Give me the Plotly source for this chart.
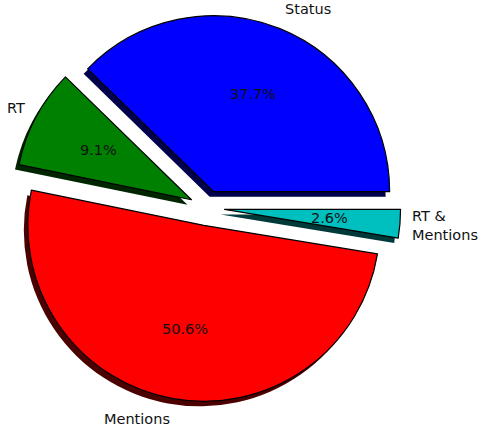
import numpy as np
import plotly.graph_objects as go

# ---- data ----
labels = ["Status", "RT", "Mentions", "RT & Mentions"]
values = [37.7, 9.1, 50.6, 2.6]
colors = ["#0000ff", "#008000", "#ff0000", "#00bfbf"]
shadow_colors = ["#00004c", "#002600", "#4c0000", "#003939"]

# ---- layout geometry (pixels in a 483x432 page) ----
W, H = 483, 432
pull = [0.1] * len(values)
r = 176                       # pie radius in px
cx, cy = 207, 208             # pie centre in px
box = 2 * r * (1 + max(pull))  # plotly: r = box / 2 / (1 + max pull)
sh_dx, sh_dy = -4, 5
label_dist_x, label_dist_y = 1.07, 1.12
pct_dist = 0.6
# first wedge starts at 3 o'clock going counterclockwise
rot = 90 - 360 * values[0] / sum(values)


def dom(dx=0, dy=0):
    x0 = (cx - box / 2 + dx) / W
    x1 = (cx + box / 2 + dx) / W
    y0 = 1 - (cy + box / 2 + dy) / H
    y1 = 1 - (cy - box / 2 + dy) / H
    return dict(x=[x0, x1], y=[y0, y1])


font = dict(family="DejaVu Sans", size=14.5, color="#111111")

fig = go.Figure()

# shadow
fig.add_trace(go.Pie(
    labels=labels, values=values, sort=False,
    direction="counterclockwise", rotation=rot, pull=pull,
    marker=dict(colors=shadow_colors, line=dict(width=0)),
    textinfo="none", hoverinfo="skip", showlegend=False,
    domain=dom(sh_dx, sh_dy),
))

# main wedges
fig.add_trace(go.Pie(
    labels=labels, values=values, sort=False,
    direction="counterclockwise", rotation=rot, pull=pull,
    marker=dict(colors=colors, line=dict(color="black", width=1.2)),
    textinfo="none", hoverinfo="label+percent", showlegend=False,
    domain=dom(),
))

# wedge texts placed like matplotlib (labels outside, percentages at 0.6 R)
vals = np.array(values, dtype=float)
frac = vals / vals.sum()
mid = 2 * np.pi * (np.cumsum(frac) - frac / 2)
annotations = []
for lab, f, th, p in zip(labels, frac, mid, pull):
    c, s = np.cos(th), np.sin(th)
    ox, oy = cx + p * r * c, cy - p * r * s
    annotations.append(dict(
        x=(ox + pct_dist * r * c) / W, y=1 - (oy - pct_dist * r * s) / H,
        xref="paper", yref="paper", text=f"{f * 100:.1f}%", showarrow=False,
        xanchor="center", yanchor="middle", font=font, borderpad=0,
    ))
    annotations.append(dict(
        x=(ox + label_dist_x * r * c) / W, y=1 - (oy - label_dist_y * r * s) / H,
        xref="paper", yref="paper", text=lab.replace(" & ", " &<br>"),
        showarrow=False, xanchor="left" if c > 0 else "right",
        yanchor="middle", align="left" if c > 0 else "right", font=font,
        borderpad=0, borderwidth=0,
    ))

fig.update_layout(
    width=W, height=H, margin=dict(l=0, r=0, t=0, b=0),
    paper_bgcolor="white", plot_bgcolor="white", showlegend=False,
    annotations=annotations,
)

fig.write_html("out.html")
